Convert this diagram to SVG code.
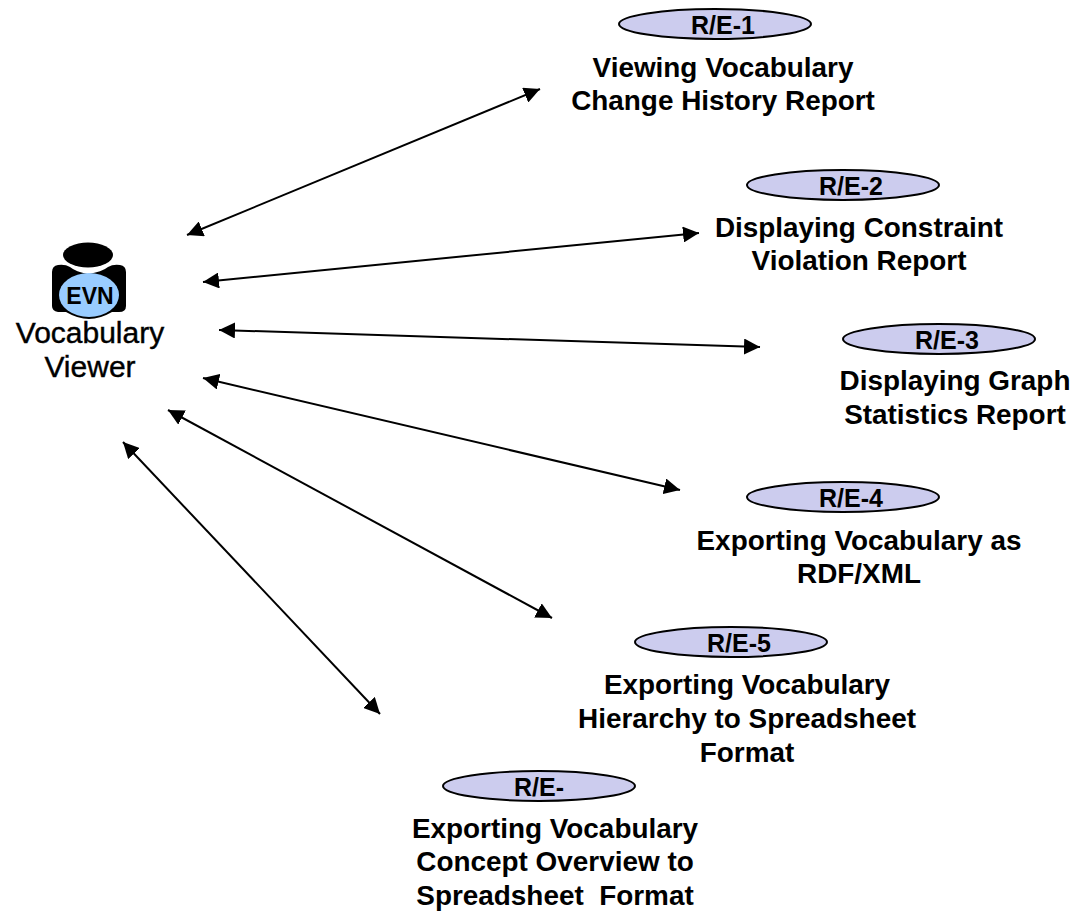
<svg xmlns="http://www.w3.org/2000/svg" width="1075" height="911" viewBox="0 0 1075 911">
<style>
text{font-family:"Liberation Sans",Arial,sans-serif;text-anchor:middle;fill:#000}
.t{font-size:27.9px;font-weight:bold}
.e{font-size:25px;font-weight:bold}
.o{fill:#ccccee;stroke:#000;stroke-width:2}
.c{stroke:#000;stroke-width:2;fill:none;marker-start:url(#a);marker-end:url(#a)}
</style>
<defs><marker id="a" markerUnits="userSpaceOnUse" markerWidth="17" markerHeight="16" refX="16" refY="8" orient="auto-start-reverse"><path d="M0 0L16 8L0 16Z" fill="#000"/></marker></defs>
<rect width="1075" height="911" fill="#fff"/>
<g id="connectors">
<line class="c" x1="187" y1="235" x2="540" y2="89"/>
<line class="c" x1="203" y1="282" x2="699" y2="233"/>
<line class="c" x1="219" y1="330" x2="760" y2="347"/>
<line class="c" x1="203" y1="378" x2="680" y2="490"/>
<line class="c" x1="168" y1="410" x2="552" y2="618"/>
<line class="c" x1="123" y1="442" x2="380" y2="714"/>
</g>
<g id="viewer">
<path d="M58 265Q65 264 70 267Q76 272 88 274Q102 272 108 267Q113 264 120 265Q126 266 126 272V306Q126 312 119 312L112 312Q100 319 89 319Q78 319 66 312L58 312Q52 311 52 306V272Q52 266 58 265Z" fill="#000"/>
<ellipse cx="88" cy="255" rx="25" ry="12.5" fill="#000"/>
<ellipse cx="89" cy="295" rx="30" ry="22" fill="#99ccff"/>
<text x="90" y="304" font-size="23" font-weight="bold">EVN</text>
<text x="90" y="343" font-size="30" stroke="#000" stroke-width=".4">Vocabulary</text>
<text x="90" y="377" font-size="30" stroke="#000" stroke-width=".4">Viewer</text>
</g>
<g id="re1"><ellipse class="o" cx="715" cy="24" rx="96" ry="15"/><text class="e" x="723" y="34">R/E-1</text>
<text class="t" x="723" y="77">Viewing Vocabulary</text><text class="t" x="723" y="110">Change History Report</text></g>
<g id="re2"><ellipse class="o" cx="843" cy="185" rx="96" ry="15"/><text class="e" x="851" y="195">R/E-2</text>
<text class="t" x="859" y="237">Displaying Constraint</text><text class="t" x="859" y="270">Violation Report</text></g>
<g id="re3"><ellipse class="o" cx="939" cy="339" rx="96" ry="15"/><text class="e" x="947" y="349">R/E-3</text>
<text class="t" x="955" y="390">Displaying Graph</text><text class="t" x="955" y="424">Statistics Report</text></g>
<g id="re4"><ellipse class="o" cx="843" cy="497" rx="96" ry="15"/><text class="e" x="851" y="507">R/E-4</text>
<text class="t" x="859" y="550">Exporting Vocabulary as</text><text class="t" x="859" y="583">RDF/XML</text></g>
<g id="re5"><ellipse class="o" cx="731" cy="642" rx="96" ry="15"/><text class="e" x="739" y="652">R/E-5</text>
<text class="t" x="747" y="694">Exporting Vocabulary</text><text class="t" x="747" y="728">Hierarchy to Spreadsheet</text><text class="t" x="747" y="762">Format</text></g>
<g id="re6"><ellipse class="o" cx="539" cy="786" rx="96" ry="15"/><text class="e" x="539" y="796">R/E-</text>
<text class="t" x="555" y="838">Exporting Vocabulary</text><text class="t" x="555" y="871">Concept Overview to</text><text class="t" x="555" y="905" xml:space="preserve">Spreadsheet  Format</text></g>
</svg>
